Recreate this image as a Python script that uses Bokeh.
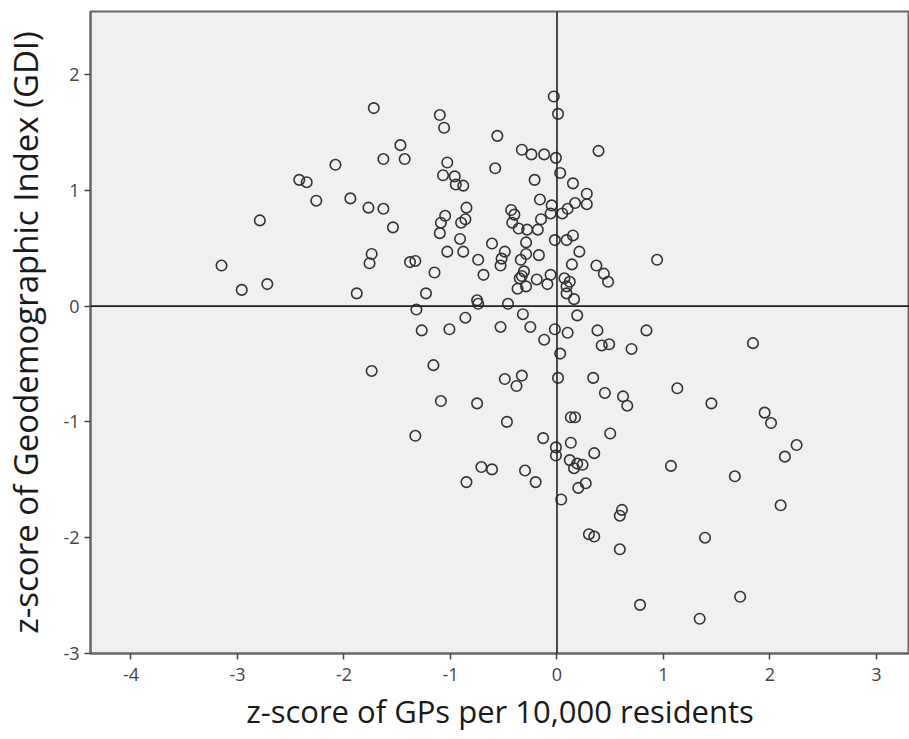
from bokeh.plotting import figure
from bokeh.models import Span, FixedTicker
from bokeh.embed import file_html
from bokeh.resources import INLINE

# z-score of GPs per 10,000 residents
gp_z = [
    -1.72, -1.63, -2.08, -2.42, -2.35, -2.26, -1.94, -1.77, -1.63, -1.54,
    -2.79, -1.74, -1.76, -3.15, -2.96, -2.72, -1.88,
    -0.03, 0.01, -1.10, -1.06, -0.56, -1.47, -1.43, -0.33, -0.24, -0.12,
    -0.01, 0.39, -1.03, -0.58, 0.03, -1.07, -0.96, -0.95, -0.88, -0.21,
    0.15, 0.28, 0.28, 0.17, 0.10, 0.05, -0.05, -0.06, -0.16, -0.15,
    -0.43, -0.40, -0.42, -0.36, -0.28, -0.18, -0.85, -0.86, -0.90, -1.05,
    -1.09, -1.10, -0.91, -0.61, -0.29, -0.02, 0.09, 0.15, -1.03, -0.88,
    -0.49, -0.52, -0.53, -0.29, -0.17, -0.34, 0.21, 0.94, -1.38, -1.33,
    -0.74, 0.14, 0.37, 0.44, 0.48, -1.15, -0.69, -0.31, -0.33, -0.35,
    -0.19, -0.06, -0.09, 0.07, 0.12, 0.09, 0.09, 0.16, -0.29, -0.37,
    -1.23, -0.75, -0.74, -0.46, -1.32, -0.32, 0.19, -0.86,
    -1.27, -1.01, -0.53, -0.25, -0.02, 0.10, 0.38, 0.84, -0.12, 0.42,
    0.49, 0.70, 0.03, -1.16, -0.49, -0.33, -0.38, 0.01, 0.34, 1.13,
    0.45, 0.62, 0.66, -1.09, -0.75, -0.47, 0.13, 0.17, -1.33, -0.13,
    -0.01, -0.01, 0.13, 0.35, 0.50, 0.12, 0.19, 0.24, 0.16, 1.07,
    -0.71, -0.61, -0.30, -0.85, -0.20, 0.20, 0.27, 0.04, 0.61, 0.59,
    0.30, 0.35, 0.59, 0.78,
    1.84, 1.45, 1.95, 2.01, 2.25, 2.14, 1.67, 2.10, 1.39, 1.72, 1.34,
    -1.74,
]

# z-score of Geodemographic Index (GDI)
gdi_z = [
    1.71, 1.27, 1.22, 1.09, 1.07, 0.91, 0.93, 0.85, 0.84, 0.68,
    0.74, 0.45, 0.37, 0.35, 0.14, 0.19, 0.11,
    1.81, 1.66, 1.65, 1.54, 1.47, 1.39, 1.27, 1.35, 1.31, 1.31,
    1.28, 1.34, 1.24, 1.19, 1.15, 1.13, 1.12, 1.05, 1.04, 1.09,
    1.06, 0.97, 0.88, 0.89, 0.84, 0.80, 0.87, 0.80, 0.92, 0.75,
    0.83, 0.79, 0.72, 0.67, 0.66, 0.66, 0.85, 0.75, 0.72, 0.78,
    0.72, 0.63, 0.58, 0.54, 0.55, 0.57, 0.57, 0.61, 0.47, 0.47,
    0.47, 0.41, 0.35, 0.45, 0.44, 0.40, 0.47, 0.40, 0.38, 0.39,
    0.40, 0.36, 0.35, 0.28, 0.21, 0.29, 0.27, 0.30, 0.26, 0.24,
    0.23, 0.27, 0.19, 0.24, 0.21, 0.17, 0.11, 0.06, 0.17, 0.15,
    0.11, 0.05, 0.02, 0.02, -0.03, -0.07, -0.08, -0.10,
    -0.21, -0.20, -0.18, -0.18, -0.20, -0.23, -0.21, -0.21, -0.29, -0.34,
    -0.33, -0.37, -0.41, -0.51, -0.63, -0.60, -0.69, -0.62, -0.62, -0.71,
    -0.75, -0.78, -0.86, -0.82, -0.84, -1.00, -0.96, -0.96, -1.12, -1.14,
    -1.22, -1.29, -1.18, -1.27, -1.10, -1.33, -1.36, -1.37, -1.40, -1.38,
    -1.39, -1.41, -1.42, -1.52, -1.52, -1.57, -1.53, -1.67, -1.76, -1.81,
    -1.97, -1.99, -2.10, -2.58,
    -0.32, -0.84, -0.92, -1.01, -1.20, -1.30, -1.47, -1.72, -2.00, -2.51, -2.70,
    -0.56,
]

x_ticks = [-4, -3, -2, -1, 0, 1, 2, 3]
y_ticks = [-3, -2, -1, 0, 1, 2]

p = figure(width=909, height=739, output_backend="svg", toolbar_location=None,
           x_range=(-4.38, 3.31), y_range=(-3.0, 2.544),
           min_border_left=90, min_border_right=0, min_border_top=11,
           min_border_bottom=86)
p.background_fill_color = "#f0f0f0"
p.border_fill_color = "white"
p.outline_line_color = "#666666"
p.outline_line_width = 2
p.grid.visible = False

p.add_layout(Span(location=0, dimension="height", line_color="#222222", line_width=1.6))
p.add_layout(Span(location=0, dimension="width", line_color="#222222", line_width=1.6))

p.scatter(gp_z, gdi_z, size=10.5, marker="circle", fill_color=None,
          line_color="#333333", line_width=1.6)

font = "Open Sans"
p.xaxis.ticker = FixedTicker(ticks=x_ticks)
p.yaxis.ticker = FixedTicker(ticks=y_ticks)
p.xaxis.major_label_overrides = {t: str(t) for t in x_ticks}
p.yaxis.major_label_overrides = {t: str(t) for t in y_ticks}
for ax in (p.xaxis, p.yaxis):
    ax.axis_line_color = "#666666"
    ax.axis_line_width = 2
    ax.major_tick_line_color = "#444444"
    ax.major_tick_line_width = 1.5
    ax.major_tick_in = 0
    ax.major_tick_out = 6
    ax.minor_tick_line_color = None
    ax.major_label_text_font = font
    ax.major_label_text_font_size = "18px"
    ax.major_label_text_color = "#444444"
    ax.axis_label_text_font = font
    ax.axis_label_text_font_style = "normal"
    ax.axis_label_text_color = "#1a1a1a"

p.xaxis.axis_label_text_font_size = "31px"
p.yaxis.axis_label_text_font_size = "33px"
p.xaxis.axis_label = "z-score of GPs per 10,000 residents"
p.yaxis.axis_label = "z-score of Geodemographic Index (GDI)"
p.xaxis.major_label_standoff = 8
p.xaxis.axis_label_standoff = 6
p.yaxis.major_label_standoff = 5
p.yaxis.axis_label_standoff = 12

open("out.html", "w").write(file_html(p, INLINE))
